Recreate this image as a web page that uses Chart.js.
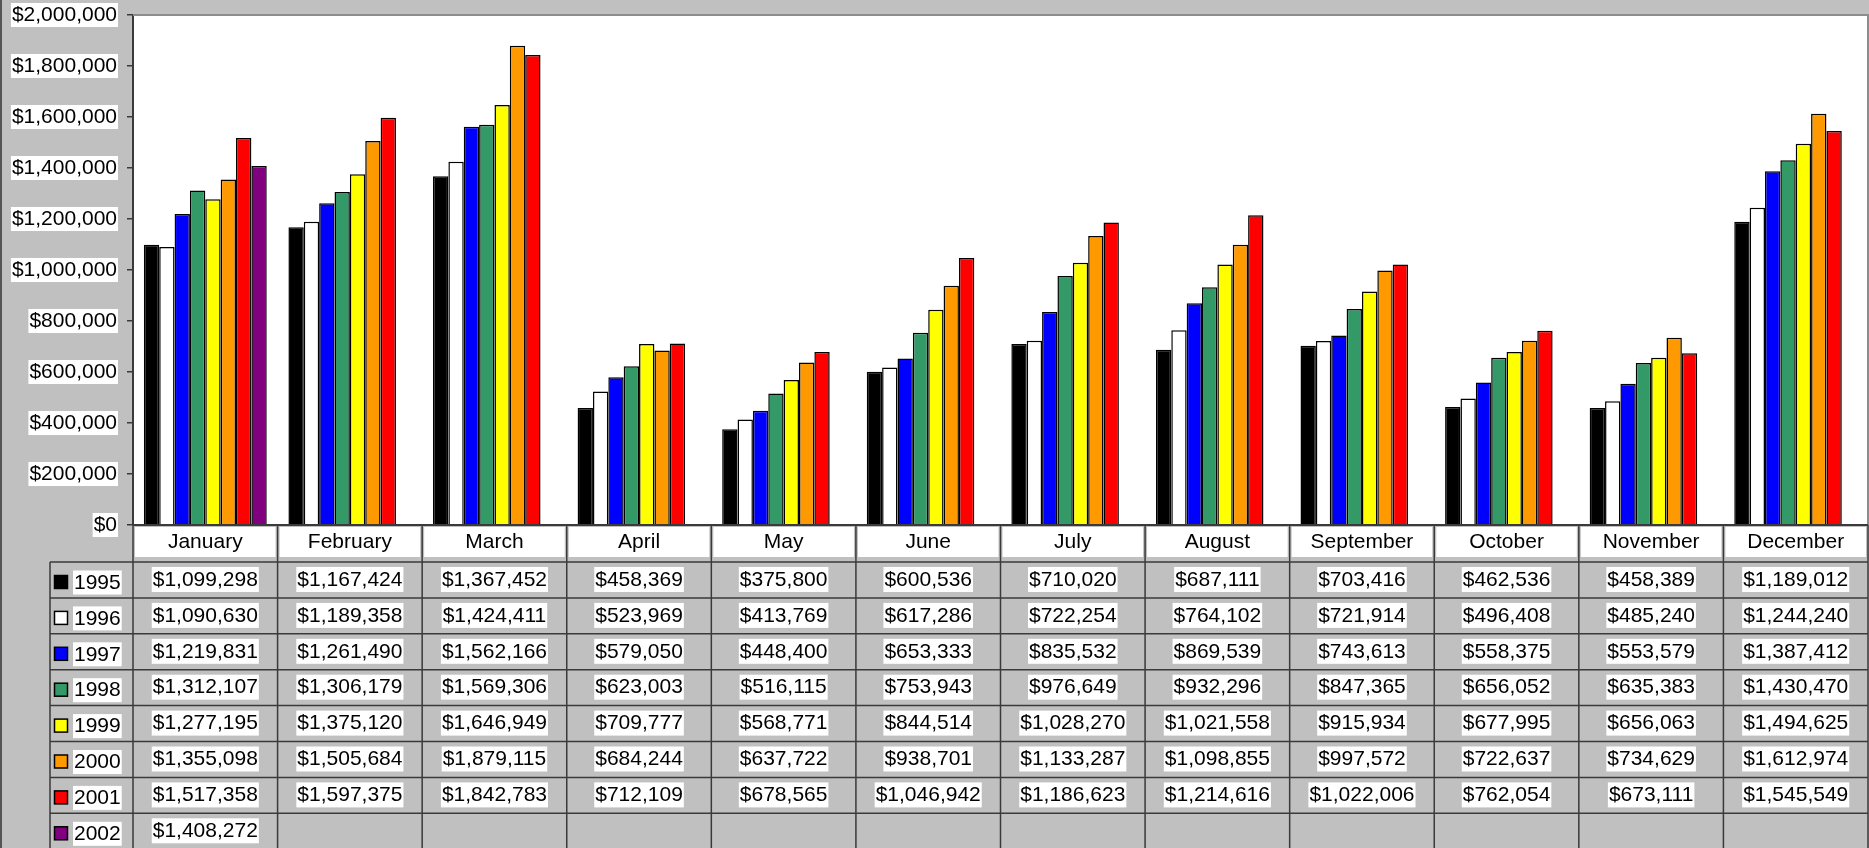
<!DOCTYPE html>
<html>
<head>
<meta charset="utf-8">
<script src="https://cdn.jsdelivr.net/npm/chart.js@4.4.1/dist/chart.umd.min.js"></script>
<style>
  html, body { margin: 0; padding: 0; background: #c0c0c0; }
  #wrap { width: 1869px; height: 848px; position: relative; }
</style>
</head>
<body>
<div id="wrap"><canvas id="chart" width="1869" height="848"></canvas></div>
<script>
const months = ['January', 'February', 'March', 'April', 'May', 'June', 'July', 'August', 'September', 'October', 'November', 'December'];
const years = ['1995', '1996', '1997', '1998', '1999', '2000', '2001', '2002'];

const sales1995 = [1099298, 1167424, 1367452, 458369, 375800, 600536, 710020, 687111, 703416, 462536, 458389, 1189012];
const sales1996 = [1090630, 1189358, 1424411, 523969, 413769, 617286, 722254, 764102, 721914, 496408, 485240, 1244240];
const sales1997 = [1219831, 1261490, 1562166, 579050, 448400, 653333, 835532, 869539, 743613, 558375, 553579, 1387412];
const sales1998 = [1312107, 1306179, 1569306, 623003, 516115, 753943, 976649, 932296, 847365, 656052, 635383, 1430470];
const sales1999 = [1277195, 1375120, 1646949, 709777, 568771, 844514, 1028270, 1021558, 915934, 677995, 656063, 1494625];
const sales2000 = [1355098, 1505684, 1879115, 684244, 637722, 938701, 1133287, 1098855, 997572, 722637, 734629, 1612974];
const sales2001 = [1517358, 1597375, 1842783, 712109, 678565, 1046942, 1186623, 1214616, 1022006, 762054, 673111, 1545549];
const sales2002 = [1408272, null, null, null, null, null, null, null, null, null, null, null];

const yMin = 0, yMax = 2000000, yStep = 200000;

const seriesValues = [sales1995, sales1996, sales1997, sales1998, sales1999, sales2000, sales2001, sales2002];
const seriesColors = ['#000000', '#ffffff', '#0000ff', '#339966', '#ffff00', '#ff9900', '#ff0000', '#800080'];

const FONT = '"Liberation Sans", Arial, sans-serif';
const LINE = '#3a3a3a';

function money(v) { return '$' + Number(v).toLocaleString('en-US'); }

// white plot area, frame and the data table under the axis
const excelTable = {
  id: 'excelTable',
  beforeDraw(chart) {
    const { ctx, chartArea: a } = chart;
    ctx.save();
    ctx.fillStyle = '#ffffff';
    ctx.fillRect(a.left, a.top, a.right - a.left, a.bottom - a.top);
    ctx.restore();
  },
  afterDraw(chart) {
    const { ctx, chartArea: a, scales: { x } } = chart;
    const colW = (a.right - a.left) / months.length;
    const legendLeft = 50;
    const rowTop = a.bottom + 37;
    const rowH = 35.9;
    const bottom = chart.height;

    ctx.save();
    // plot frame top / right
    ctx.strokeStyle = '#8c8c8c';
    ctx.lineWidth = 2;
    ctx.beginPath();
    ctx.moveTo(a.left, a.top);
    ctx.lineTo(a.right, a.top);
    ctx.lineTo(a.right, a.bottom);
    ctx.stroke();

    // outer left edge
    ctx.strokeStyle = '#555';
    ctx.beginPath();
    ctx.moveTo(1, 0);
    ctx.lineTo(1, bottom);
    ctx.stroke();

    // category axis line
    ctx.strokeStyle = LINE;
    ctx.lineWidth = 2;
    ctx.beginPath();
    ctx.moveTo(a.left, a.bottom);
    ctx.lineTo(a.right, a.bottom);
    ctx.stroke();

    ctx.font = '21px ' + FONT;
    ctx.textBaseline = 'middle';

    // month header boxes
    months.forEach((m, i) => {
      const cx = x.getPixelForValue(i);
      ctx.fillStyle = '#ffffff';
      ctx.fillRect(cx - colW / 2 + 2, a.bottom + 2, colW - 4, 30);
      ctx.fillStyle = '#000';
      ctx.textAlign = 'center';
      ctx.fillText(m, cx, a.bottom + 17.5);
    });

    // grid lines
    ctx.strokeStyle = LINE;
    ctx.lineWidth = 1.5;
    ctx.beginPath();
    for (let r = 0; r <= years.length; r++) {
      const y = rowTop + r * rowH;
      ctx.moveTo(legendLeft, y);
      ctx.lineTo(a.right, y);
    }
    ctx.moveTo(legendLeft, rowTop);
    ctx.lineTo(legendLeft, bottom);
    for (let i = 0; i <= months.length; i++) {
      const xx = a.left + i * colW;
      ctx.moveTo(xx, a.bottom);
      ctx.lineTo(xx, bottom);
    }
    ctx.stroke();

    // rows
    years.forEach((yr, r) => {
      const top = rowTop + r * rowH;
      // legend key
      ctx.fillStyle = seriesColors[r];
      ctx.fillRect(54.5, top + 13.5, 13, 13);
      ctx.strokeStyle = '#000';
      ctx.lineWidth = 1.5;
      ctx.strokeRect(54.5, top + 13.5, 13, 13);
      const yw = ctx.measureText(yr).width;
      ctx.fillStyle = '#ffffff';
      ctx.fillRect(73, top + 8.5, yw + 2, 24);
      ctx.fillStyle = '#000';
      ctx.textAlign = 'left';
      ctx.fillText(yr, 74, top + 21);

      seriesValues[r].forEach((v, i) => {
        if (v == null) return;
        const cx = x.getPixelForValue(i);
        const txt = money(v);
        const tw = ctx.measureText(txt).width;
        ctx.fillStyle = '#ffffff';
        ctx.fillRect(cx - tw / 2 - 1, top + 5, tw + 2, 25);
        ctx.fillStyle = '#000';
        ctx.textAlign = 'center';
        ctx.fillText(txt, cx, top + 18);
      });
    });
    ctx.restore();
  }
};

new Chart(document.getElementById('chart'), {
  type: 'bar',
  data: {
    labels: months,
    datasets: years.map((yr, i) => ({
      label: yr,
      data: seriesValues[i],
      backgroundColor: seriesColors[i],
      borderColor: '#000',
      borderWidth: 1.5,
      categoryPercentage: 0.85,
      barPercentage: 1.0
    }))
  },
  options: {
    responsive: false,
    animation: false,
    layout: { padding: { left: 0, top: 15, right: 1, bottom: 323 } },
    plugins: { legend: { display: false }, tooltip: { enabled: false } },
    scales: {
      x: {
        display: false,
        grid: { display: false }
      },
      y: {
        min: yMin,
        max: yMax,
        afterFit: s => { s.width = 133; s.paddingTop = 0; s.paddingBottom = 0; },
        border: { display: true, color: LINE, width: 2 },
        grid: { drawOnChartArea: false, drawTicks: true, tickLength: 6, color: LINE, lineWidth: 1.5 },
        ticks: {
          stepSize: yStep,
          padding: 10,
          color: '#000',
          font: { family: FONT, size: 21, lineHeight: 1.05 },
          showLabelBackdrop: true,
          backdropColor: '#ffffff',
          backdropPadding: { top: 1, bottom: 1, left: 1, right: 1 },
          callback: v => money(v)
        }
      }
    }
  },
  plugins: [excelTable]
});
</script>
</body>
</html>
